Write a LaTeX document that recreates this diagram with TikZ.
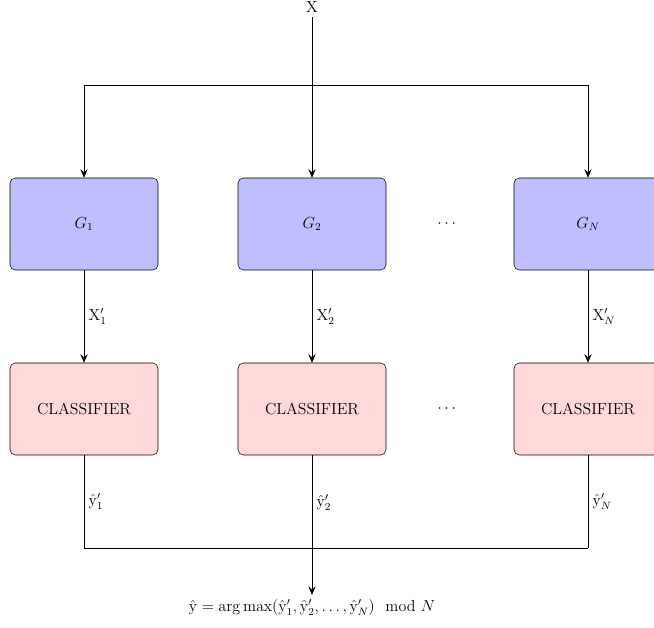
\documentclass[tikz,border=0pt]{standalone}
\usepackage{amsmath}
\usetikzlibrary{arrows.meta}

\tikzset{
  genbox/.style={draw, rounded corners=4pt, fill=blue!25, minimum width=111pt, minimum height=69pt},
  clfbox/.style={draw, rounded corners=4pt, fill=red!15, minimum width=111pt, minimum height=69pt},
  flow/.style={-{Stealth[length=6.5pt,width=5.5pt,inset=2.5pt]}},
}

\begin{document}
\begin{tikzpicture}[x=0.75pt, y=0.75pt, every node/.style={font=\large}]

  % Canvas
  \useasboundingbox (0, 0) rectangle (654, 628);

  % Input
  \node (x) at (312, 621) {X};

  % Generators
  \node[genbox] (g1) at (84, 404) {$G_1$};
  \node[genbox] (g2) at (312, 404) {$G_2$};
  \node[genbox] (gN) at (588, 404) {$G_N$};
  \node (gdots) at (448, 404) {$\cdots$};

  % Classifiers
  \node[clfbox] (c1) at (84, 219) {CLASSIFIER};
  \node[clfbox] (c2) at (312, 219) {CLASSIFIER};
  \node[clfbox] (cN) at (588, 219) {CLASSIFIER};
  \node (cdots) at (448, 219) {$\cdots$};

  % Output
  \node[anchor=north] (out) at (312, 33)
    {$\hat{\mathrm{y}} = \arg\max(\hat{\mathrm{y}}'_1, \hat{\mathrm{y}}'_2, \ldots, \hat{\mathrm{y}}'_N) \mod N$};

  % Split points
  \coordinate (s1) at (84, 543);
  \coordinate (sN) at (588, 543);
  \coordinate (m1) at (84, 80);
  \coordinate (mN) at (588, 80);

  % Input to generators
  \draw[flow] (x) -- (g2);
  \draw (s1) -- (sN);
  \draw[flow] (s1) -- (g1);
  \draw[flow] (sN) -- (gN);

  % Generators to classifiers
  \draw[flow] (g1) -- node[right] {$\mathrm{X}'_1$} (c1);
  \draw[flow] (g2) -- node[right] {$\mathrm{X}'_2$} (c2);
  \draw[flow] (gN) -- node[right] {$\mathrm{X}'_N$} (cN);

  % Classifiers to output
  \draw (c1) -- node[right] {$\hat{\mathrm{y}}'_1$} (m1);
  \draw (cN) -- node[right] {$\hat{\mathrm{y}}'_N$} (mN);
  \draw (m1) -- (mN);
  \draw[flow] (c2) -- node[right, pos=0.34] {$\hat{\mathrm{y}}'_2$} (out);

\end{tikzpicture}
\end{document}
